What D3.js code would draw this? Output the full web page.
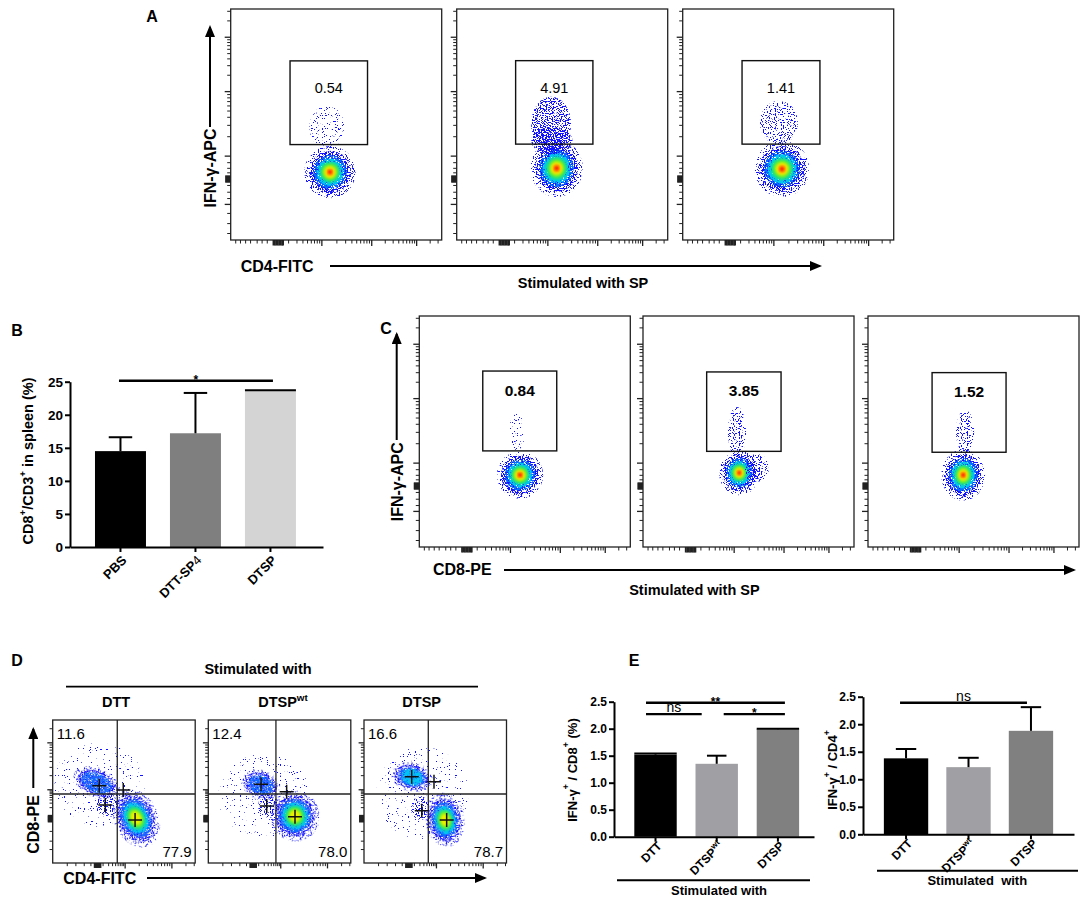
<!DOCTYPE html>
<html><head><meta charset="utf-8">
<script src="https://cdn.jsdelivr.net/npm/d3@7"></script>
<style>
body{margin:0;background:#fff}
svg{display:block}
text{font-family:"Liberation Sans",Arial,sans-serif;white-space:pre}
</style>
</head><body>
<svg id="fig" width="1084" height="897"></svg>
<script>
// ======================= DATA =======================
// Panel A (IFN-γ-APC vs CD4-FITC), gate frequencies
const flowA_gateValues = ["0.54", "4.91", "1.41"];
// gate bounds in channel units [x0, x1, y0, y1]
const flowA_gates = [[288, 664, 423, 794], [286, 661, 425, 795], [288, 666, 425, 795]];
// cell populations in channel units (cx, cy, rx, ry, rot, peak density level, speckle level)
const flowA_pops = [
  [{cx: 482, cy: 301, rx: 102, ry: 95, rot: 0, peak: 8},
   {cx: 467, cy: 500, rx: 85, ry: 95, rot: 0, peak: 0, spk: 4}],
  [{cx: 485, cy: 318, rx: 104, ry: 104, rot: 0, peak: 8},
   {cx: 458, cy: 515, rx: 97, ry: 120, rot: 0, peak: 0, spk: 2},
   {cx: 462, cy: 440, rx: 100, ry: 60, rot: 0, peak: 0, spk: 2}],
  [{cx: 482, cy: 315, rx: 109, ry: 102, rot: 0, peak: 8},
   {cx: 467, cy: 520, rx: 92, ry: 97, rot: 0, peak: 0, spk: 3}]
];
// Panel C (IFN-γ-APC vs CD8-PE)
const flowC_gateValues = ["0.84", "3.85", "1.52"];
const flowC_gates = [[308, 667, 426, 780], [309, 670, 424, 776], [311, 670, 420, 773]];
const flowC_pops = [
  [{cx: 489, cy: 319, rx: 92, ry: 86, rot: 0, peak: 8},
   {cx: 474, cy: 510, rx: 39, ry: 80, rot: 0, peak: 0, spk: 4}],
  [{cx: 467, cy: 329, rx: 80, ry: 82, rot: 0, peak: 8},
   {cx: 553, cy: 350, rx: 58, ry: 62, rot: 0, peak: 0, spk: 3},
   {cx: 456, cy: 510, rx: 44, ry: 111, rot: 0, peak: 0, spk: 3}],
  [{cx: 462, cy: 319, rx: 87, ry: 93, rot: 0, peak: 8},
   {cx: 471, cy: 510, rx: 44, ry: 97, rot: 0, peak: 0, spk: 3}]
];
// Panel D (CD8-PE vs CD4-FITC)
const flowD_groups = ["DTT", "DTSP^wt", "DTSP"];
const flowD_upperLeft = ["11.6", "12.4", "16.6"];
const flowD_lowerRight = ["77.9", "78.0", "78.7"];
const flowD_quadX = [464, 486, 462];
const flowD_quadY = [494, 494, 494];
const flowD_pops = [
  [{cx: 330, cy: 560, rx: 330, ry: 300, rot: 0, peak: 0, spk: 5},
   {cx: 316, cy: 573, rx: 144, ry: 86, rot: 25, peak: 2},
   {cx: 397, cy: 415, rx: 86, ry: 86, rot: 0, peak: 0, spk: 3},
   {cx: 599, cy: 322, rx: 129, ry: 179, rot: -25, peak: 6}],
  [{cx: 400, cy: 480, rx: 330, ry: 300, rot: 0, peak: 0, spk: 5},
   {cx: 379, cy: 559, rx: 115, ry: 86, rot: 20, peak: 2},
   {cx: 429, cy: 408, rx: 72, ry: 86, rot: 0, peak: 0, spk: 3},
   {cx: 623, cy: 337, rx: 144, ry: 150, rot: -20, peak: 6}],
  [{cx: 420, cy: 500, rx: 330, ry: 330, rot: 0, peak: 0, spk: 5},
   {cx: 345, cy: 616, rx: 122, ry: 86, rot: 15, peak: 3},
   {cx: 402, cy: 394, rx: 65, ry: 86, rot: 0, peak: 0, spk: 3},
   {cx: 582, cy: 308, rx: 115, ry: 158, rot: -10, peak: 6}]
];
const flowD_crosses = [
  [[335, 553], [507, 523], [378, 415], [592, 308]],
  [[379, 564], [563, 511], [420, 408], [623, 332]],
  [[343, 618], [503, 582], [415, 375], [594, 308]]
];
// axis tick channels (logicle display)
const flowAC_xTicks = {major: [440, 682, 900], logPairs: [[209, 440], [440, 682], [682, 900], [900, 1118]],
  low: [22, 45, 70, 94, 126, 150, 175], bunch: [205, 212, 219, 226, 233, 240, 247, 252]};
const flowAC_yTicks = {major: [160, 374, 660, 901], logPairs: [[374, 660], [660, 901], [901, 1142]],
  low: [31, 75, 120, 186, 214, 244, 300, 320, 345], bunch: [260, 265, 270, 275, 280, 285]};
const flowD_xTicks = {major: [517, 853], logPairs: [[290, 517], [517, 853], [853, 1189]],
  low: [101, 163, 223, 271], bunch: [298, 305, 312, 319, 326, 333, 340]};
const flowD_yTicks = {major: [528, 864], logPairs: [[345, 528], [528, 864], [864, 1200]],
  low: [100, 160, 230], bunch: [300, 307, 314, 321, 328, 335, 342]};

// Panel B bar chart
const barB_categories = ["PBS", "DTT-SP_4", "DTSP"];
const barB_means = [14.5, 17.2, 23.6];
const barB_errors = [2.1, 6.1, 0.1];
const barB_ticks = [0, 5, 10, 15, 20, 25];
const barB_sig = [{a: 0, b: 2, label: "*", value: 25.15}];

// Panel E bar charts
const barE_categories = ["DTT", "DTSP^wt", "DTSP"];
const barE1_means = [1.52, 1.35, 1.99];
const barE1_errors = [0.02, 0.15, 0.01];
const barE1_sig = [{a: 0, b: 2, label: "**", value: 2.48}, {a: 0, b: 1, label: "ns", value: 2.27}, {a: 1, b: 2, label: "*", value: 2.27}];
const barE2_means = [1.38, 1.22, 1.88];
const barE2_errors = [0.17, 0.17, 0.43];
const barE2_sig = [{a: 0, b: 2, label: "ns", value: 2.39}];
const barE_ticks = [0, 0.5, 1.0, 1.5, 2.0, 2.5];

// ======================= STYLE =======================
const SANS = '"Liberation Sans", Arial, sans-serif';
const NARROW = '"Liberation Sans Narrow", "Liberation Sans", Arial, sans-serif';
const SERIF = '"Liberation Serif", "Times New Roman", serif';
const LEVELS = [
  {s: 1.00, c: "#1212ff", f: "spk2"},
  {s: 0.80, c: "#0a6cff", f: "spk1"},
  {s: 0.64, c: "#00c4f2", f: "spk0"},
  {s: 0.50, c: "#12e08e"},
  {s: 0.38, c: "#74f020"},
  {s: 0.27, c: "#eef000"},
  {s: 0.18, c: "#ffa000"},
  {s: 0.10, c: "#ff2200"}
];

const svg = d3.select("#fig");
const defs = svg.append("defs");
svg.append("rect").attr("width", 1084).attr("height", 897).attr("fill", "#fff");

function speckle(id, thr, seed) {
  const f = defs.append("filter").attr("id", id).attr("x", "-30%").attr("y", "-30%")
    .attr("width", "160%").attr("height", "160%").attr("color-interpolation-filters", "sRGB");
  f.append("feTurbulence").attr("type", "fractalNoise").attr("baseFrequency", 0.85)
    .attr("numOctaves", 1).attr("seed", seed).attr("result", "n");
  const k = 40;
  f.append("feColorMatrix").attr("in", "n").attr("type", "matrix")
    .attr("values", `0 0 0 0 0  0 0 0 0 0  0 0 0 0 0  ${k} 0 0 0 ${-k * thr}`).attr("result", "m");
  f.append("feComposite").attr("in", "SourceGraphic").attr("in2", "m").attr("operator", "in");
}
const SPK_T = [0.40, 0.46, 0.52, 0.58, 0.63, 0.68];
SPK_T.forEach((t, i) => speckle("spk" + i, t, 3 + i));
const soft = defs.append("filter").attr("id", "soft").attr("x", "-20%").attr("y", "-20%").attr("width", "140%").attr("height", "140%");
soft.append("feGaussianBlur").attr("stdDeviation", 0.8);

const arrow = defs.append("marker").attr("id", "arr").attr("markerUnits", "userSpaceOnUse")
  .attr("markerWidth", 12).attr("markerHeight", 10).attr("refX", 10).attr("refY", 5).attr("orient", "auto");
arrow.append("path").attr("d", "M0,0 L12,5 L0,10 Z").attr("fill", "#000");

function rich(sel, str, size) {
  const parts = str.split(/(\^[^ /]+|_[^ /]+)/).filter(s => s.length);
  let shifted = false;
  parts.forEach(p => {
    if (p[0] === "^") {
      sel.append("tspan").attr("font-size", size * 0.68).attr("dy", -size * 0.42).text(p.slice(1));
      shifted = true;
    } else {
      const t = sel.append("tspan");
      if (shifted) { t.attr("dy", size * 0.42); shifted = false; }
      if (p[0] === "_") t.attr("font-weight", "normal").text(p.slice(1));
      else t.text(p);
    }
  });
  return sel;
}
function label(x, y, str, size, opts = {}) {
  const t = svg.append("text").attr("x", x).attr("y", y).attr("font-size", size)
    .attr("font-family", opts.family || SANS).attr("font-weight", opts.weight || "bold")
    .attr("text-anchor", opts.anchor || "start").attr("fill", "#000");
  if (opts.rotate) t.attr("transform", `rotate(${opts.rotate},${x},${y})`);
  if (opts.baseline) t.attr("dominant-baseline", opts.baseline);
  rich(t, str, size);
  return t;
}
function arrowLine(x1, y1, x2, y2) {
  svg.append("line").attr("x1", x1).attr("y1", y1).attr("x2", x2).attr("y2", y2)
    .attr("stroke", "#000").attr("stroke-width", 2).attr("marker-end", "url(#arr)");
}

// ======================= FLOW PLOTS =======================
let clipN = 0;
function drawPop(g, xs, ys, p) {
  const cx = xs(p.cx), cy = ys(p.cy);
  const rx = xs(p.rx) - xs(0), ry = ys(0) - ys(p.ry);
  const pg = g.append("g").attr("transform", `translate(${cx},${cy}) rotate(${p.rot || 0})`);
  if (p.peak === 0) {
    pg.append("ellipse").attr("rx", rx).attr("ry", ry).attr("fill", LEVELS[0].c).attr("filter", `url(#spk${p.spk})`);
    return;
  }
  pg.append("ellipse").attr("rx", rx * 1.22).attr("ry", ry * 1.22).attr("fill", LEVELS[0].c).attr("filter", "url(#spk3)");
  LEVELS.slice(0, p.peak).forEach(L => {
    pg.append("ellipse").attr("rx", rx * L.s).attr("ry", ry * L.s).attr("fill", L.c)
      .attr("filter", L.f ? `url(#${L.f})` : "url(#soft)");
  });
}
function tickSet(spec) {
  const minor = [];
  spec.logPairs.forEach(([a, b]) => {
    for (let k = 2; k <= 9; k++) { const v = a + Math.log10(k) * (b - a); if (v < 1024) minor.push(v); }
  });
  return {major: spec.major, minor: minor.concat(spec.low), bunch: spec.bunch};
}
function drawTicks(g, xs, ys, h, xt, yt, scale) {
  const add = (gen, vals, size, sw, tr) => {
    const a = g.append("g").attr("transform", tr).call(gen.tickValues(vals).tickSize(size).tickFormat(""));
    a.select(".domain").remove();
    a.selectAll("line").attr("stroke", "#222").attr("stroke-width", sw);
  };
  const X = tickSet(xt), Y = tickSet(yt);
  add(d3.axisBottom(xs), X.major, 6 * scale, 1.3, `translate(0,${h})`);
  add(d3.axisBottom(xs), X.minor, 3.5 * scale, 1, `translate(0,${h})`);
  add(d3.axisBottom(xs), X.bunch, 5.5 * scale, 1.8, `translate(0,${h})`);
  add(d3.axisLeft(ys), Y.major, 6 * scale, 1.3, "translate(0,0)");
  add(d3.axisLeft(ys), Y.minor, 3.5 * scale, 1, "translate(0,0)");
  add(d3.axisLeft(ys), Y.bunch, 5.5 * scale, 1.8, "translate(0,0)");
}
function flowPlot(x0, y0, w, h, o) {
  const g = svg.append("g").attr("transform", `translate(${x0},${y0})`);
  const xs = d3.scaleLinear().domain([0, 1024]).range([0, w]);
  const ys = d3.scaleLinear().domain([0, 1024]).range([h, 0]);
  const id = "clip" + (clipN++);
  defs.append("clipPath").attr("id", id).append("rect").attr("width", w).attr("height", h);
  const cg = g.append("g").attr("clip-path", `url(#${id})`);
  o.pops.forEach(p => drawPop(cg, xs, ys, p));
  if (o.quad) {
    cg.append("line").attr("x1", xs(o.quad[0])).attr("x2", xs(o.quad[0])).attr("y1", 0).attr("y2", h).attr("stroke", "#222").attr("stroke-width", 1.3);
    cg.append("line").attr("x1", 0).attr("x2", w).attr("y1", ys(o.quad[1])).attr("y2", ys(o.quad[1])).attr("stroke", "#222").attr("stroke-width", 1.3);
  }
  if (o.crosses) {
    o.crosses.forEach(([cx, cy]) => {
      const px = xs(cx), py = ys(cy);
      cg.append("path").attr("d", `M${px - 7},${py}H${px + 7}M${px},${py - 7}V${py + 7}`).attr("stroke", "#111").attr("stroke-width", 1.5);
    });
  }
  if (o.gate) {
    const [gx0, gx1, gy0, gy1] = o.gate;
    g.append("rect").attr("x", xs(gx0)).attr("y", ys(gy1)).attr("width", xs(gx1) - xs(gx0)).attr("height", ys(gy0) - ys(gy1))
      .attr("fill", "none").attr("stroke", "#111").attr("stroke-width", 1.4);
    g.append("text").attr("x", xs((gx0 + gx1) / 2)).attr("y", ys(gy1) + o.gateDy).attr("text-anchor", "middle")
      .attr("font-family", o.gateFont).attr("font-weight", o.gateWeight).attr("font-size", o.gateSize).text(o.gateText);
  }
  g.append("rect").attr("width", w).attr("height", h).attr("fill", "none").attr("stroke", "#222").attr("stroke-width", 1.3);
  drawTicks(g, xs, ys, h, o.xt, o.yt, o.tickScale || 1);
  if (o.ul) g.append("text").attr("x", 4).attr("y", 18.5).attr("font-size", 15).attr("font-family", SANS).text(o.ul);
  if (o.lr) g.append("text").attr("x", w - 3.5).attr("y", h - 6.5).attr("text-anchor", "end").attr("font-size", 15).attr("font-family", SANS).text(o.lr);
}

// ---- Panel A ----
const A_X = [230.7, 456.7, 682.7];
A_X.forEach((x0, i) => flowPlot(x0, 9, 211, 231, {
  pops: flowA_pops[i], gate: flowA_gates[i], gateText: flowA_gateValues[i], gateDy: 32,
  gateFont: SANS, gateWeight: "normal", gateSize: 14.5, xt: flowAC_xTicks, yt: flowAC_yTicks
}));
label(152, 22, "A", 16, {anchor: "middle"});
label(210, 168, "IFN-γ-APC", 16, {anchor: "middle", rotate: -90, baseline: "central"});
arrowLine(210, 127, 210, 27);
label(240.7, 272, "CD4-FITC", 16);
arrowLine(330, 266, 820, 266);
label(583, 288, "Stimulated with SP", 14.5, {anchor: "middle"});

// ---- Panel C ----
const C_X = [419.3, 643, 868];
C_X.forEach((x0, i) => flowPlot(x0, 316, 211, 231, {
  pops: flowC_pops[i], gate: flowC_gates[i], gateText: flowC_gateValues[i], gateDy: 24.5,
  gateFont: SERIF, gateWeight: "bold", gateSize: 15.5, xt: flowAC_xTicks, yt: flowAC_yTicks
}));
label(386, 334, "C", 16, {anchor: "middle"});
label(396.7, 481.7, "IFN-γ-APC", 16, {anchor: "middle", rotate: -90, baseline: "central"});
arrowLine(396.7, 440, 396.7, 334);
label(433, 575, "CD8-PE", 16);
arrowLine(504, 570, 1074, 570);
label(694.4, 595, "Stimulated with SP", 14.5, {anchor: "middle"});

// ---- Panel D ----
const D_X = [52.7, 208.3, 364];
D_X.forEach((x0, i) => flowPlot(x0, 720, 142.5, 143, {
  pops: flowD_pops[i], quad: [flowD_quadX[i], flowD_quadY[i]], crosses: flowD_crosses[i],
  ul: flowD_upperLeft[i], lr: flowD_lowerRight[i], xt: flowD_xTicks, yt: flowD_yTicks, tickScale: 0.9
}));
label(17, 666, "D", 16, {anchor: "middle"});
label(258, 674, "Stimulated with", 14.5, {anchor: "middle"});
svg.append("line").attr("x1", 66).attr("x2", 478).attr("y1", 686.7).attr("y2", 686.7).attr("stroke", "#000").attr("stroke-width", 1.8);
const D_HEAD_X = [116, 283, 421.7];
flowD_groups.forEach((s, i) => label(D_HEAD_X[i], 707, s, 14.5, {anchor: "middle"}));
label(33.3, 824.5, "CD8-PE", 16, {anchor: "middle", rotate: -90, baseline: "central"});
arrowLine(33.3, 788, 33.3, 729);
label(63.3, 884, "CD4-FITC", 16);
arrowLine(147, 878, 485, 878);

// ======================= BAR CHARTS =======================
function barChart(o) {
  const g = svg.append("g");
  const x = d3.scaleBand().domain(o.cats).range([o.x0, o.x1]).paddingInner(o.pi).paddingOuter(o.po).align(o.align);
  const y = d3.scaleLinear().domain([0, o.yMax]).range([o.yBottom, o.yTop]);
  const bw = x.bandwidth();
  g.selectAll("rect.bar").data(o.cats).join("rect").attr("class", "bar")
    .attr("x", d => x(d)).attr("width", bw)
    .attr("y", (d, i) => y(o.means[i])).attr("height", (d, i) => y(0) - y(o.means[i]))
    .attr("fill", (d, i) => o.colors[i]);
  o.cats.forEach((d, i) => {
    const cx = x(d) + bw / 2, top = y(o.means[i] + o.errors[i]);
    const cw = o.errors[i] / o.means[i] < 0.03 ? bw : bw * 0.46;
    g.append("line").attr("x1", cx).attr("x2", cx).attr("y1", y(o.means[i])).attr("y2", top).attr("stroke", "#000").attr("stroke-width", 2);
    g.append("line").attr("x1", cx - cw / 2).attr("x2", cx + cw / 2).attr("y1", top).attr("y2", top).attr("stroke", "#000").attr("stroke-width", 2);
  });
  const ya = g.append("g").attr("transform", `translate(${o.x0},0)`)
    .call(d3.axisLeft(y).tickValues(o.ticks).tickFormat(o.fmt).tickSize(5).tickSizeOuter(0));
  ya.select(".domain").attr("stroke-width", 2);
  ya.selectAll(".tick line").attr("stroke-width", 2);
  ya.selectAll(".tick text").attr("font-family", SANS).attr("font-weight", "bold").attr("font-size", o.tickSize).attr("x", -7).attr("fill", "#000");
  const xa = g.append("g").attr("transform", `translate(0,${o.yBottom})`)
    .call(d3.axisBottom(x).tickSize(5).tickSizeOuter(0).tickFormat(""));
  xa.select(".domain").attr("stroke-width", 2);
  xa.selectAll(".tick line").attr("stroke-width", 2);
  o.cats.forEach(d => {
    const lx = x(d) + bw / 2 + o.labDx, ly = o.yBottom + o.labDy;
    const t = g.append("text").attr("x", lx).attr("y", ly).attr("text-anchor", "end")
      .attr("font-family", o.labFont).attr("font-weight", "bold").attr("font-size", o.labSize)
      .attr("transform", `rotate(-45,${lx},${ly})`);
    rich(t, d, o.labSize);
  });
  o.sig.forEach((s, i) => {
    const x1 = x(o.cats[s.a]) + bw / 2 + o.sigOff[i][0], x2 = x(o.cats[s.b]) + bw / 2 + o.sigOff[i][1];
    const yy = y(s.value);
    g.append("line").attr("x1", x1).attr("x2", x2).attr("y1", yy).attr("y2", yy).attr("stroke", "#000").attr("stroke-width", 2.4);
    const isStar = s.label.indexOf("*") >= 0;
    g.append("text").attr("x", (x1 + x2) / 2).attr("y", yy + (isStar ? 3 : -2)).attr("text-anchor", "middle")
      .attr("font-family", NARROW).attr("font-size", isStar ? 12 : 14).attr("font-weight", isStar ? "bold" : "normal").text(s.label);
  });
  const yl = g.append("text").attr("x", o.ylx).attr("y", o.yly).attr("text-anchor", "middle").attr("dominant-baseline", "central")
    .attr("font-family", o.ylFont).attr("font-weight", "bold").attr("font-size", o.ylSize)
    .attr("transform", `rotate(-90,${o.ylx},${o.yly})`);
  rich(yl, o.ylabel, o.ylSize);
  return {x, y};
}

// ---- Panel B ----
label(17, 336, "B", 16, {anchor: "middle"});
barChart({
  cats: barB_categories, means: barB_means, errors: barB_errors, colors: ["#000000", "#7f7f7f", "#d4d4d4"],
  x0: 70, x1: 323, pi: 0.32, po: 0.347, align: 0.48, yTop: 381.7, yBottom: 547, yMax: 25,
  ticks: barB_ticks, fmt: d3.format("d"), tickSize: 13.5,
  labDx: 7, labDy: 14, labFont: SANS, labSize: 13,
  sig: barB_sig, sigOff: [[-1.5, 2.5]],
  ylabel: "CD8^+/CD3^+ in spleen (%)", ylx: 28.3, yly: 461, ylFont: SANS, ylSize: 14.5
});

// ---- Panel E ----
label(634, 666, "E", 16, {anchor: "middle"});
barChart({
  cats: barE_categories, means: barE1_means, errors: barE1_errors, colors: ["#000000", "#a0a0a4", "#808080"],
  x0: 614, x1: 814, pi: 0.307, po: 0.2876, align: 0.577, yTop: 701.7, yBottom: 836.7, yMax: 2.5,
  ticks: barE_ticks, fmt: d3.format(".1f"), tickSize: 12,
  labDx: 7, labDy: 10, labFont: SANS, labSize: 12,
  sig: barE1_sig, sigOff: [[-9.5, 7], [-9.5, -15], [7, 7]],
  ylabel: "IFN-γ^+ / CD8^+ (%)", ylx: 571.7, yly: 770, ylFont: NARROW, ylSize: 13
});
svg.append("line").attr("x1", 617).attr("x2", 810).attr("y1", 880.3).attr("y2", 880.3).attr("stroke", "#000").attr("stroke-width", 2);
label(719, 895, "Stimulated with", 13, {anchor: "middle", family: NARROW});

barChart({
  cats: barE_categories, means: barE2_means, errors: barE2_errors, colors: ["#000000", "#a0a0a4", "#808080"],
  x0: 863, x1: 1074, pi: 0.29, po: 0.334, align: 0.5, yTop: 696.7, yBottom: 834.3, yMax: 2.5,
  ticks: barE_ticks, fmt: d3.format(".1f"), tickSize: 12,
  labDx: 7, labDy: 10, labFont: SANS, labSize: 12,
  sig: barE2_sig, sigOff: [[-6, -4]],
  ylabel: "IFN-γ^+ / CD4^+", ylx: 832.3, yly: 770, ylFont: NARROW, ylSize: 13
});
svg.append("line").attr("x1", 877).attr("x2", 1078).attr("y1", 870.7).attr("y2", 870.7).attr("stroke", "#000").attr("stroke-width", 2);
label(977.3, 885, "Stimulated  with", 13, {anchor: "middle", family: NARROW});
</script>
</body></html>
